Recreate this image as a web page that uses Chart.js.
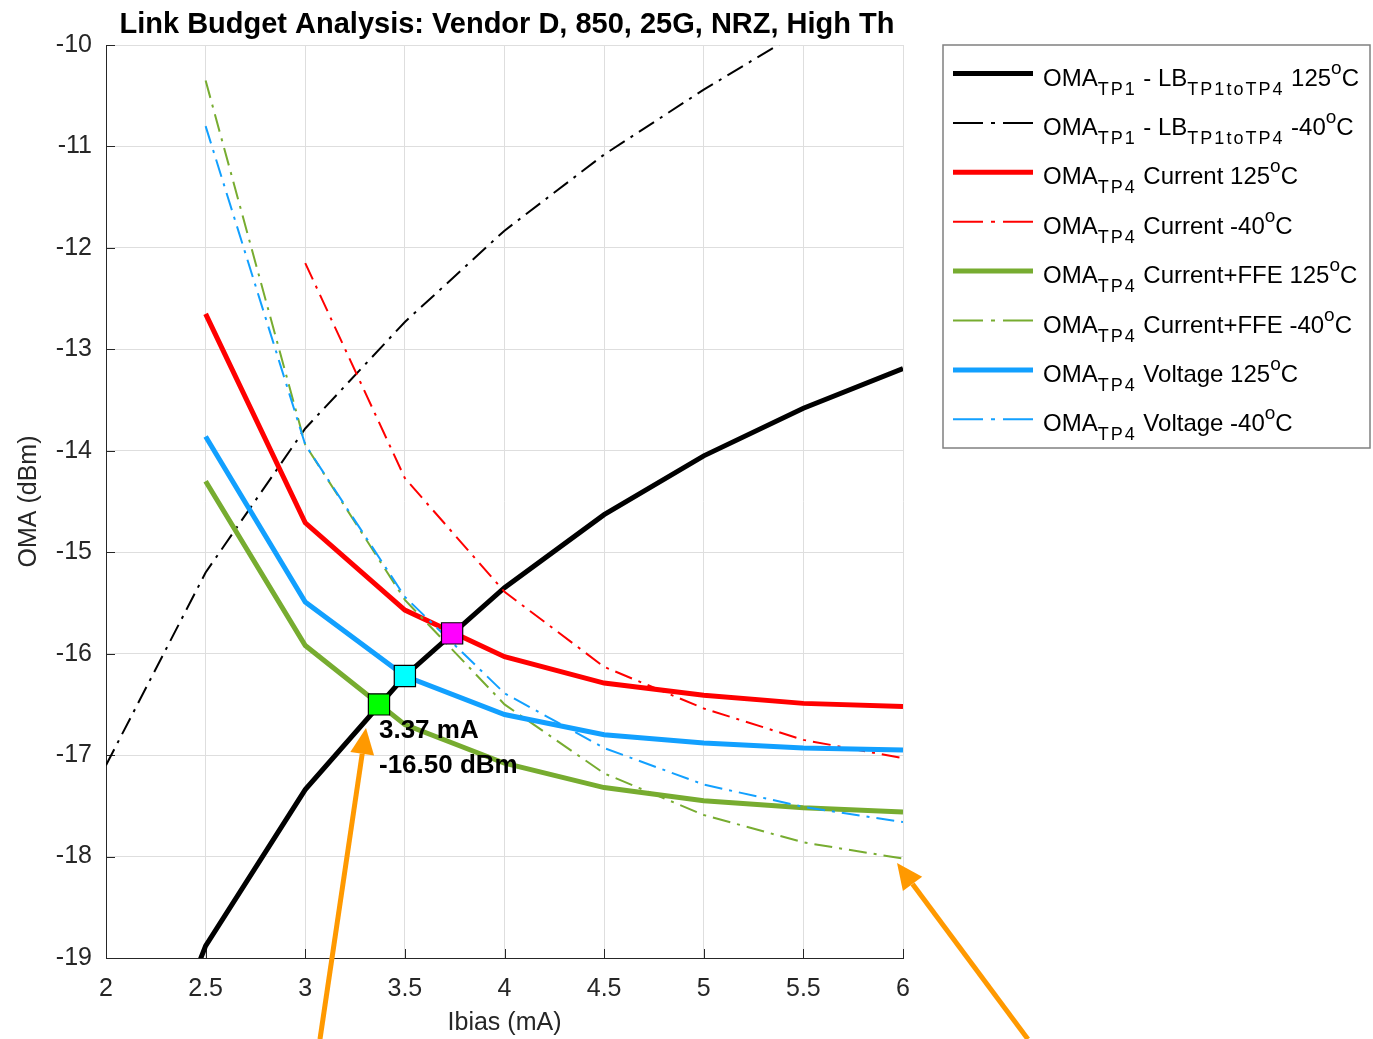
<!DOCTYPE html>
<html>
<head>
<meta charset="utf-8">
<title>Link Budget Analysis</title>
<script src="https://cdn.jsdelivr.net/npm/chart.js"></script>
<style>
  html, body { margin: 0; padding: 0; background: #fff; }
  #wrap { width: 1373px; height: 1039px; position: relative; }
</style>
</head>
<body>
<div id="wrap"><canvas id="lbChart"></canvas></div>
<script>
// --- data ---
const ibias = [2, 2.5, 3, 3.5, 4, 4.5, 5, 5.5, 6];

const lb125   = [-21.4, -18.88, -17.34, -16.22, -15.35, -14.63, -14.05, -13.58, -13.19];
const lbM40   = [-17.10, -15.20, -13.78, -12.73, -11.83, -11.08, -10.44, -9.85, null];
const cur125  = [null, -12.65, -14.71, -15.57, -16.03, -16.29, -16.41, -16.49, -16.52];
const curM40  = [null, null, -12.15, -14.27, -15.39, -16.13, -16.54, -16.85, -17.03];
const ffe125  = [null, -14.30, -15.92, -16.70, -17.08, -17.32, -17.45, -17.52, -17.56];
const ffeM40  = [null, -10.35, -13.94, -15.47, -16.50, -17.18, -17.59, -17.86, -18.02];
const volt125 = [null, -13.86, -15.49, -16.22, -16.60, -16.80, -16.88, -16.93, -16.95];
const voltM40 = [null, -10.80, -13.94, -15.44, -16.39, -16.93, -17.29, -17.51, -17.66];

// crossing markers (Current+FFE, Voltage, Current at 125C)
const markerX = [3.37, 3.5, 3.737];
const markerY = [-16.50, -16.22, -15.80];
const markerColors = ['#00ff00', '#00ffff', '#ff00ff'];

// annotation text and arrows (data coordinates)
const noteLines = ['3.37 mA', '-16.50 dBm'];
const noteX = 3.37;
const noteY = [-16.83, -17.18];
const arrows = [
  { from: [3.074, -19.80], to: [3.305, -16.733] },
  { from: [6.627, -19.80], to: [5.970, -18.064] }
];

const titleText = 'Link Budget Analysis: Vendor D, 850, 25G, NRZ, High Th';

// legend labels as rich text pieces: n = normal, sub = subscript, sup = superscript
const legendLabels = [
  [['OMA', 'n'], ['TP1', 'sub'], [' - LB', 'n'], ['TP1toTP4', 'sub'], [' 125', 'n'], ['o', 'sup'], ['C', 'n']],
  [['OMA', 'n'], ['TP1', 'sub'], [' - LB', 'n'], ['TP1toTP4', 'sub'], [' -40', 'n'], ['o', 'sup'], ['C', 'n']],
  [['OMA', 'n'], ['TP4', 'sub'], [' Current 125', 'n'], ['o', 'sup'], ['C', 'n']],
  [['OMA', 'n'], ['TP4', 'sub'], [' Current -40', 'n'], ['o', 'sup'], ['C', 'n']],
  [['OMA', 'n'], ['TP4', 'sub'], [' Current+FFE 125', 'n'], ['o', 'sup'], ['C', 'n']],
  [['OMA', 'n'], ['TP4', 'sub'], [' Current+FFE -40', 'n'], ['o', 'sup'], ['C', 'n']],
  [['OMA', 'n'], ['TP4', 'sub'], [' Voltage 125', 'n'], ['o', 'sup'], ['C', 'n']],
  [['OMA', 'n'], ['TP4', 'sub'], [' Voltage -40', 'n'], ['o', 'sup'], ['C', 'n']]
];

const FONT = '"Liberation Sans", Arial, Helvetica, sans-serif';
const AXIS_COLOR = '#262626';
const GRID_COLOR = '#dedede';
const GREEN = '#77ac30';
const BLUE = '#12a0ff';
const DASHDOT = [18, 7, 3, 7];

// series styles (same order as legend)
const seriesList = [
  { data: lb125,   color: '#000000', solid: true },
  { data: lbM40,   color: '#000000', solid: false },
  { data: cur125,  color: '#ff0000', solid: true },
  { data: curM40,  color: '#ff0000', solid: false },
  { data: ffe125,  color: GREEN,     solid: true },
  { data: ffeM40,  color: GREEN,     solid: false },
  { data: volt125, color: BLUE,      solid: true },
  { data: voltM40, color: BLUE,      solid: false }
];

function toPoints(ys) {
  const pts = [];
  ys.forEach((y, i) => { if (y !== null) pts.push({ x: ibias[i], y: y }); });
  return pts;
}

const datasets = seriesList.map((s, i) => ({
  type: 'line',
  data: toPoints(s.data),
  borderColor: s.color,
  backgroundColor: s.color,
  borderWidth: s.solid ? 5 : 2,
  borderDash: s.solid ? [] : DASHDOT,
  pointRadius: 0,
  pointHoverRadius: 0,
  tension: 0,
  fill: false,
  order: 20 - i
}));

datasets.push({
  type: 'scatter',
  data: markerX.map((x, i) => ({ x: x, y: markerY[i] })),
  pointStyle: 'rect',
  pointRadius: 15,
  pointBackgroundColor: markerColors,
  pointBorderColor: '#000',
  pointBorderWidth: 1.2,
  showLine: false,
  order: 0
});

// --- drawing helpers ---
function drawRich(ctx, pieces, x, baseline) {
  let cx = x;
  pieces.forEach(([txt, mode]) => {
    let size = 24, dy = 0, spacing = '0px';
    if (mode === 'sub') { size = 18; dy = 9; spacing = '2px'; }
    if (mode === 'sup') { size = 19; dy = -12; }
    ctx.font = size + 'px ' + FONT;
    ctx.letterSpacing = spacing;
    ctx.fillText(txt, cx, baseline + dy);
    cx += ctx.measureText(txt).width;
  });
  ctx.letterSpacing = '0px';
}

function drawArrow(ctx, x0, y0, x1, y1) {
  const ang = Math.atan2(y1 - y0, x1 - x0);
  const headLen = 26, headW = 12;
  const bx = x1 - headLen * Math.cos(ang), by = y1 - headLen * Math.sin(ang);
  ctx.strokeStyle = '#ff9900';
  ctx.fillStyle = '#ff9900';
  ctx.lineWidth = 5;
  ctx.setLineDash([]);
  ctx.beginPath();
  ctx.moveTo(x0, y0);
  ctx.lineTo(bx, by);
  ctx.stroke();
  ctx.beginPath();
  ctx.moveTo(x1, y1);
  ctx.lineTo(bx + headW * Math.sin(ang), by - headW * Math.cos(ang));
  ctx.lineTo(bx - headW * Math.sin(ang), by + headW * Math.cos(ang));
  ctx.closePath();
  ctx.fill();
}

const decorPlugin = {
  id: 'decor',
  beforeDatasetsDraw(chart) {
    const { ctx, chartArea: a, scales: { x, y } } = chart;
    // inward tick marks
    ctx.save();
    ctx.strokeStyle = AXIS_COLOR;
    ctx.lineWidth = 1;
    x.ticks.forEach(t => {
      const px = Math.round(x.getPixelForValue(t.value)) + 0.5;
      ctx.beginPath(); ctx.moveTo(px, a.bottom); ctx.lineTo(px, a.bottom - 9); ctx.stroke();
    });
    y.ticks.forEach(t => {
      const py = Math.round(y.getPixelForValue(t.value)) + 0.5;
      ctx.beginPath(); ctx.moveTo(a.left, py); ctx.lineTo(a.left + 9, py); ctx.stroke();
    });
    ctx.restore();
  },
  afterDraw(chart) {
    const { ctx, chartArea: a, scales: { x, y } } = chart;
    ctx.save();

    // title
    ctx.fillStyle = '#000';
    ctx.font = 'bold 29px ' + FONT;
    ctx.textAlign = 'center';
    ctx.textBaseline = 'alphabetic';
    ctx.fillText(titleText, 507, 33, 785);

    // annotation text
    ctx.textAlign = 'left';
    ctx.font = 'bold 26px ' + FONT;
    noteLines.forEach((t, i) => {
      ctx.fillText(t, x.getPixelForValue(noteX), y.getPixelForValue(noteY[i]));
    });

    // arrows
    arrows.forEach(ar => {
      drawArrow(ctx,
        x.getPixelForValue(ar.from[0]), y.getPixelForValue(ar.from[1]),
        x.getPixelForValue(ar.to[0]), y.getPixelForValue(ar.to[1]));
    });

    // legend box
    const lx = 943, ly = 45, lw = 427, lh = 403, rowGap = 49.4, firstRow = 73.5;
    ctx.fillStyle = '#fff';
    ctx.fillRect(lx, ly, lw, lh);
    ctx.strokeStyle = '#808080';
    ctx.lineWidth = 1.5;
    ctx.strokeRect(lx, ly, lw, lh);

    seriesList.forEach((s, i) => {
      const cy = firstRow + i * rowGap;
      ctx.strokeStyle = s.color;
      ctx.lineWidth = s.solid ? 5 : 2;
      ctx.setLineDash(s.solid ? [] : [30, 8, 4, 8]);
      ctx.beginPath(); ctx.moveTo(953, cy); ctx.lineTo(1033, cy); ctx.stroke();
      ctx.setLineDash([]);
      ctx.fillStyle = '#000';
      drawRich(ctx, legendLabels[i], 1043, cy + 12);
    });
    ctx.restore();
  }
};

new Chart(document.getElementById('lbChart'), {
  type: 'line',
  data: { datasets: datasets },
  plugins: [decorPlugin],
  options: {
    responsive: true,
    maintainAspectRatio: false,
    animation: false,
    events: [],
    layout: { padding: { top: 45, right: 470, left: 0, bottom: 0 } },
    plugins: {
      legend: { display: false },
      tooltip: { enabled: false },
      title: { display: false }
    },
    scales: {
      x: {
        type: 'linear',
        min: 2, max: 6,
        afterFit: s => { s.height = 81; },
        ticks: { stepSize: 0.5, color: AXIS_COLOR, padding: 16, font: { family: FONT, size: 25 }, callback: v => String(v) },
        grid: { color: GRID_COLOR, drawTicks: false },
        border: { color: AXIS_COLOR, width: 1 },
        title: { display: true, text: 'Ibias (mA)', color: AXIS_COLOR, font: { family: FONT, size: 25 }, padding: { top: 0, bottom: 1 } }
      },
      y: {
        type: 'linear',
        min: -19, max: -10,
        afterFit: s => { s.width = 106; },
        ticks: { stepSize: 1, color: AXIS_COLOR, padding: 14, font: { family: FONT, size: 25 }, callback: v => String(v) },
        grid: { color: GRID_COLOR, drawTicks: false },
        border: { color: AXIS_COLOR, width: 1 },
        title: { display: true, text: 'OMA (dBm)', color: AXIS_COLOR, font: { family: FONT, size: 25 }, padding: { top: 14, bottom: 0 } }
      }
    }
  }
});
</script>
</body>
</html>
